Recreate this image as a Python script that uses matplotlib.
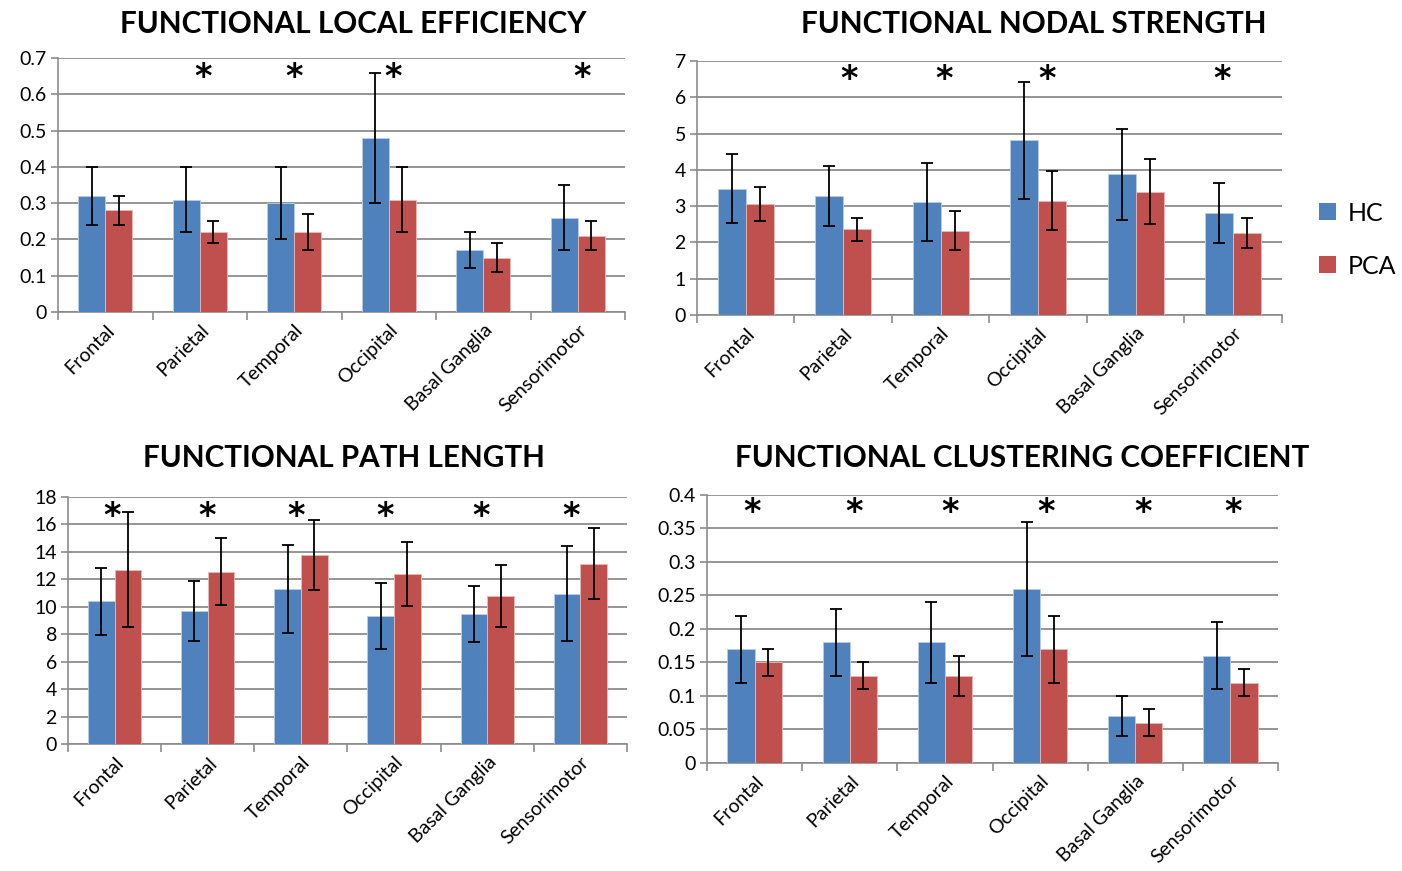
import matplotlib
matplotlib.use("Agg")
import matplotlib.pyplot as plt
import numpy as np
from matplotlib.patches import Patch

plt.rcParams['font.family'] = ['Lato', 'DejaVu Sans']

categories = ["Frontal", "Parietal", "Temporal", "Occipital", "Basal Ganglia", "Sensorimotor"]

# Functional local efficiency
le_hc = [0.32, 0.31, 0.30, 0.48, 0.17, 0.26]
le_hc_err = [0.08, 0.09, 0.10, 0.18, 0.05, 0.09]
le_pca = [0.28, 0.22, 0.22, 0.31, 0.15, 0.21]
le_pca_err = [0.04, 0.03, 0.05, 0.09, 0.04, 0.04]
le_stars = [1, 2, 3, 5]

# Functional nodal strength
ns_hc = [3.48, 3.28, 3.12, 4.82, 3.88, 2.82]
ns_hc_err = [0.95, 0.82, 1.08, 1.61, 1.26, 0.83]
ns_pca = [3.05, 2.36, 2.32, 3.15, 3.40, 2.27]
ns_pca_err = [0.47, 0.31, 0.54, 0.81, 0.90, 0.41]
ns_stars = [1, 2, 3, 5]

# Functional path length
pl_hc = [10.4, 9.7, 11.3, 9.35, 9.45, 10.95]
pl_hc_err = [2.45, 2.2, 3.2, 2.4, 2.05, 3.45]
pl_pca = [12.7, 12.55, 13.8, 12.4, 10.8, 13.15]
pl_pca_err = [4.2, 2.45, 2.55, 2.35, 2.25, 2.6]
pl_stars = [0, 1, 2, 3, 4, 5]

# Functional clustering coefficient
cc_hc = [0.17, 0.18, 0.18, 0.26, 0.07, 0.16]
cc_hc_err = [0.05, 0.05, 0.06, 0.10, 0.03, 0.05]
cc_pca = [0.15, 0.13, 0.13, 0.17, 0.06, 0.12]
cc_pca_err = [0.02, 0.02, 0.03, 0.05, 0.02, 0.02]
cc_stars = [0, 1, 2, 3, 4, 5]

series_names = ["HC", "PCA"]
BLUE = "#4F81BD"
RED = "#C0504D"
GRID = "#8C8C8C"

fig = plt.figure(figsize=(14.02, 8.71), dpi=100)

panels = [
    dict(rect=[0.0414, 0.6418, 0.4044, 0.2916], title="FUNCTIONAL LOCAL EFFICIENCY",
         hc=le_hc, hce=le_hc_err, pca=le_pca, pcae=le_pca_err, stars=le_stars,
         star_dx=[0.03, 0.0, 0.05, 0.05],
         ymax=0.7, step=0.1, fmt=lambda v: "0" if v == 0 else f"{v:g}", star_y=0.645, tx=0.252, ty=0.972),
    dict(rect=[0.4971, 0.6383, 0.4173, 0.2916], title="FUNCTIONAL NODAL STRENGTH",
         hc=ns_hc, hce=ns_hc_err, pca=ns_pca, pcae=ns_pca_err, stars=ns_stars,
         star_dx=[0.06, 0.03, 0.09, -0.11],
         ymax=7, step=1, fmt=lambda v: f"{v:g}", star_y=6.5, tx=0.737, ty=0.972),
    dict(rect=[0.0485, 0.1458, 0.3987, 0.2836], title="FUNCTIONAL PATH LENGTH",
         hc=pl_hc, hce=pl_hc_err, pca=pl_pca, pcae=pl_pca_err, stars=pl_stars,
         star_dx=[-0.03, -0.01, -0.05, -0.1, -0.065, -0.1],
         ymax=18, step=2, fmt=lambda v: f"{v:g}", star_y=16.6, tx=0.245, ty=0.474),
    dict(rect=[0.5043, 0.1240, 0.4073, 0.3077], title="FUNCTIONAL CLUSTERING COEFFICIENT",
         hc=cc_hc, hce=cc_hc_err, pca=cc_pca, pcae=cc_pca_err, stars=cc_stars,
         star_dx=[-0.03, 0.04, 0.05, 0.06, 0.08, 0.03],
         ymax=0.4, step=0.05, fmt=lambda v: "0" if v == 0 else f"{v:g}", star_y=0.374, tx=0.729, ty=0.474),
]

x = np.arange(len(categories))
w = 1 / 3.5

for p in panels:
    ax = fig.add_axes(p["rect"])
    ax.bar(x - w / 2, p["hc"], w, color=BLUE, edgecolor="#B9CDE5", linewidth=0.6, zorder=3)
    ax.bar(x + w / 2, p["pca"], w, color=RED, edgecolor="#E6B9B8", linewidth=0.6, zorder=3)
    ax.errorbar(x - w / 2, p["hc"], yerr=p["hce"], fmt="none", ecolor="black",
                elinewidth=1.3, capsize=4, capthick=1.3, zorder=4)
    ax.errorbar(x + w / 2, p["pca"], yerr=p["pcae"], fmt="none", ecolor="black",
                elinewidth=1.3, capsize=4, capthick=1.3, zorder=4)
    for i, dx in zip(p["stars"], p["star_dx"]):
        ax.text(x[i] + dx, p["star_y"], "*", ha="center", va="center", fontsize=24,
                fontweight="bold", zorder=5, family="DejaVu Sans")
    ax.set_xlim(-0.5, len(categories) - 0.5)
    ax.set_ylim(0, p["ymax"])
    yt = np.arange(0, p["ymax"] + p["step"] / 2, p["step"])
    ax.set_yticks(yt)
    ax.set_yticklabels([p["fmt"](round(v, 3)) for v in yt], fontsize=14)
    ax.yaxis.grid(True, color=GRID, linewidth=1.3, zorder=0)
    ax.set_axisbelow(True)
    ax.set_xticks(np.arange(-0.5, len(categories), 1), minor=False)
    ax.set_xticklabels([])
    ax.set_xticks(x, minor=True)
    ax.set_xticklabels(categories, minor=True, rotation=45, ha="right",
                       rotation_mode="anchor", fontsize=14)
    ax.tick_params(axis="x", which="major", length=6, color=GRID, width=1.2)
    ax.tick_params(axis="x", which="minor", length=0, pad=7)
    ax.tick_params(axis="y", length=5, color=GRID, width=1.2, pad=3)
    for s in ["top", "right"]:
        ax.spines[s].set_visible(False)
    for s in ["left", "bottom"]:
        ax.spines[s].set_color(GRID)
        ax.spines[s].set_linewidth(1.2)
    fig.text(p["tx"], p["ty"], p["title"], ha="center", va="center",
             fontsize=21.3, fontweight="bold")

handles = [Patch(facecolor=BLUE, label=series_names[0]), Patch(facecolor=RED, label=series_names[1])]
fig.legend(handles=handles, loc="center left", bbox_to_anchor=(0.925, 0.725), frameon=False,
           fontsize=18, handlelength=0.65, handleheight=0.65, labelspacing=1.2, handletextpad=0.5)

fig.savefig("out.png", dpi=100)
